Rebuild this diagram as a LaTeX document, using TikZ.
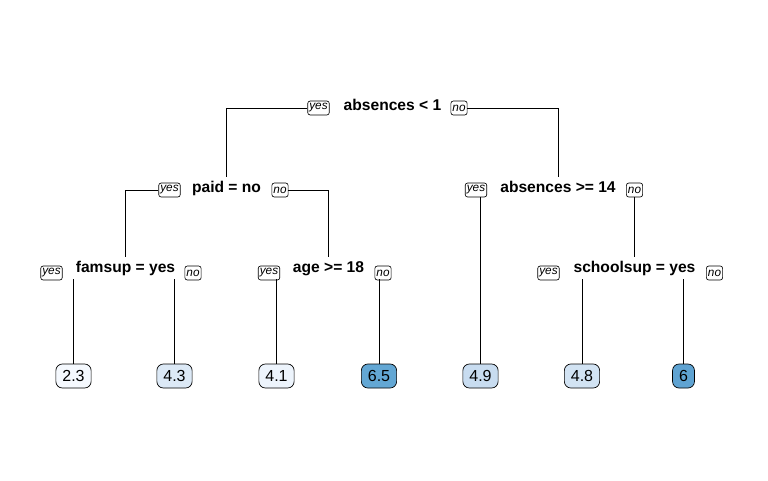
\documentclass[tikz,border=0pt]{standalone}
\usepackage{fontspec}
\setmainfont{Liberation Sans}
\definecolor{cA}{HTML}{F5F9FE}
\definecolor{cB}{HTML}{DCE9F6}
\definecolor{cC}{HTML}{EDF4FC}
\definecolor{cD}{HTML}{63A7D4}
\definecolor{cE}{HTML}{C8DCF0}
\definecolor{cF}{HTML}{D2E3F3}
\definecolor{cG}{HTML}{5FA3D2}
\tikzset{
  split/.style={anchor=base, inner sep=3.5pt, font=\fontsize{15.6}{18}\selectfont\bfseries},
  yn/.style={draw, line width=0.65pt, rounded corners=2.5pt, inner xsep=1.6pt, inner ysep=0.8pt,
             minimum height=14pt, font=\fontsize{11.8}{13}\selectfont\itshape},
  leaf/.style={draw, line width=0.7pt, rounded corners=6.5pt, inner xsep=6.5pt, inner ysep=0pt,
               minimum height=24pt, font=\fontsize{16}{18}\selectfont},
  edge/.style={line width=0.75pt}
}
\begin{document}
\begin{tikzpicture}[x=1pt,y=-1pt]
\useasboundingbox[fill=white] (0,0) rectangle (768,480);
% split labels
\node[split] (root) at (392.5,110) {absences < 1};
\node[split] (paid) at (226.5,192) {paid = no};
\node[split] (abs) at (558,192) {absences >= 14};
\node[split] (fam) at (125.5,272) {famsup = yes};
\node[split] (age) at (328.5,272) {age >= 18};
\node[split] (sch) at (634.5,272) {schoolsup = yes};
% yes/no boxes
\node[yn] (ryes) at (318.5,108) {yes};
\node[yn] (rno) at (459,108) {no};
\node[yn] (pyes) at (169.5,190) {yes};
\node[yn] (pno) at (280,190) {no};
\node[yn] (ayes) at (476,190) {yes};
\node[yn] (ano) at (634.5,190) {no};
\node[yn] (fyes) at (51.5,273) {yes};
\node[yn] (fno) at (193,273) {no};
\node[yn] (gyes) at (269,273) {yes};
\node[yn] (gno) at (383,273) {no};
\node[yn] (syes) at (548.5,273) {yes};
\node[yn] (sno) at (714.5,273) {no};
% leaves
\node[leaf, fill=cA] (l1) at (73.5,376) {2.3};
\node[leaf, fill=cB] (l2) at (174.5,376) {4.3};
\node[leaf, fill=cC] (l3) at (276.5,376) {4.1};
\node[leaf, fill=cD] (l4) at (379,376) {6.5};
\node[leaf, fill=cE] (l5) at (480.5,376) {4.9};
\node[leaf, fill=cF] (l6) at (582,376) {4.8};
\node[leaf, fill=cG] (l7) at (683.5,376) {6};
% connectors
\draw[edge] (ryes.west) -| (paid.north);
\draw[edge] (rno.east) -| (abs.north);
\draw[edge] (pyes.west) -| (fam.north);
\draw[edge] (pno.east) -| (age.north);
\draw[edge] (l5.north) -- (l5.north |- ayes.south);
\draw[edge] (ano.south) -- (ano.south |- sch.north);
\draw[edge] (l1.north) -- (l1.north |- fam.south);
\draw[edge] (l2.north) -- (l2.north |- fam.south);
\draw[edge] (l3.north) -- (l3.north |- age.south);
\draw[edge] (l4.north) -- (l4.north |- age.south);
\draw[edge] (l6.north) -- (l6.north |- sch.south);
\draw[edge] (l7.north) -- (l7.north |- sch.south);
\end{tikzpicture}
\end{document}
